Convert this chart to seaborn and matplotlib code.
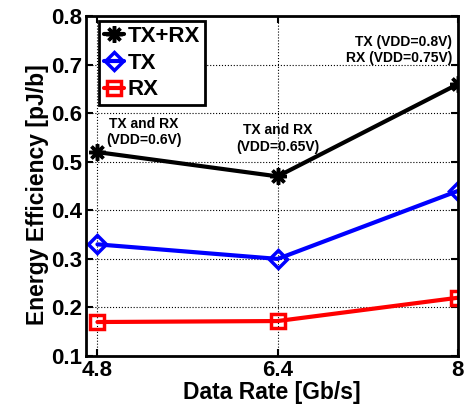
import pandas as pd
import seaborn as sns
import matplotlib.pyplot as plt

# data
rates = [4.8, 6.4, 8.0]
txrx = [0.52, 0.47, 0.66]
tx = [0.33, 0.30, 0.44]
rx = [0.17, 0.172, 0.22]

sns.set_style("white")
plt.rcParams['font.family'] = ['Liberation Sans', 'DejaVu Sans']
plt.rcParams['font.weight'] = 'bold'
plt.rcParams['text.color'] = 'black'
plt.rcParams['axes.labelcolor'] = 'black'
plt.rcParams['xtick.color'] = 'black'
plt.rcParams['ytick.color'] = 'black'

fig = plt.figure(figsize=(4.71, 4.05), dpi=100)
ax = fig.add_axes([0.183, 0.121, 0.789, 0.839])

sns.lineplot(x=rates, y=txrx, ax=ax, color='black', lw=3, marker=(8, 2, 0),
             markersize=12, markeredgewidth=2.5, markeredgecolor='black', label='TX+RX')
sns.lineplot(x=rates, y=tx, ax=ax, color='blue', lw=3, marker='D',
             markersize=9, markeredgewidth=2.5, markerfacecolor='none',
             markeredgecolor='blue', label='TX')
sns.lineplot(x=rates, y=rx, ax=ax, color='red', lw=3, marker='s',
             markersize=10, markeredgewidth=2.5, markerfacecolor='none',
             markeredgecolor='red', label='RX')

ax.set_xlim(4.7, 8.0)
ax.set_ylim(0.1, 0.8)
ax.set_xticks(rates)
ax.set_xticklabels(['4.8', '6.4', '8'])
ax.set_yticks([0.1, 0.2, 0.3, 0.4, 0.5, 0.6, 0.7, 0.8])
ax.grid(True, color='black', linestyle=':', linewidth=0.8)
ax.tick_params(direction='in', length=5, width=1.5, labelsize=16, pad=3,
               top=True, right=True, bottom=True, left=True)
for lab in ax.get_xticklabels() + ax.get_yticklabels():
    lab.set_fontweight('bold')
for s in ax.spines.values():
    s.set_linewidth(2)
    s.set_color('black')

ax.set_xlabel('Data Rate [Gb/s]', fontsize=16.5, fontweight='bold', labelpad=0)
ax.set_ylabel('Energy Efficiency [pJ/b]', fontsize=16.5, fontweight='bold')
ax.yaxis.set_label_coords(-0.1, 0.476)

ax.text(5.21, 0.562, 'TX and RX\n(VDD=0.6V)', fontsize=10, fontweight='bold',
        ha='center', va='center')
ax.text(6.4, 0.548, 'TX and RX\n(VDD=0.65V)', fontsize=10, fontweight='bold',
        ha='center', va='center')
ax.text(7.95, 0.73, 'TX (VDD=0.8V)\nRX (VDD=0.75V)', fontsize=10, fontweight='bold',
        ha='right', va='center')

leg = ax.legend(loc='upper left', bbox_to_anchor=(0.035, 0.985), fontsize=16,
                frameon=True, fancybox=False, framealpha=1, borderpad=0.22,
                labelspacing=0.25, handlelength=0.9, handletextpad=0.15,
                borderaxespad=0.0)
leg.get_frame().set_edgecolor('black')
leg.get_frame().set_linewidth(2)
for t in leg.get_texts():
    t.set_fontweight('bold')

fig.savefig('out.png', dpi=100)
